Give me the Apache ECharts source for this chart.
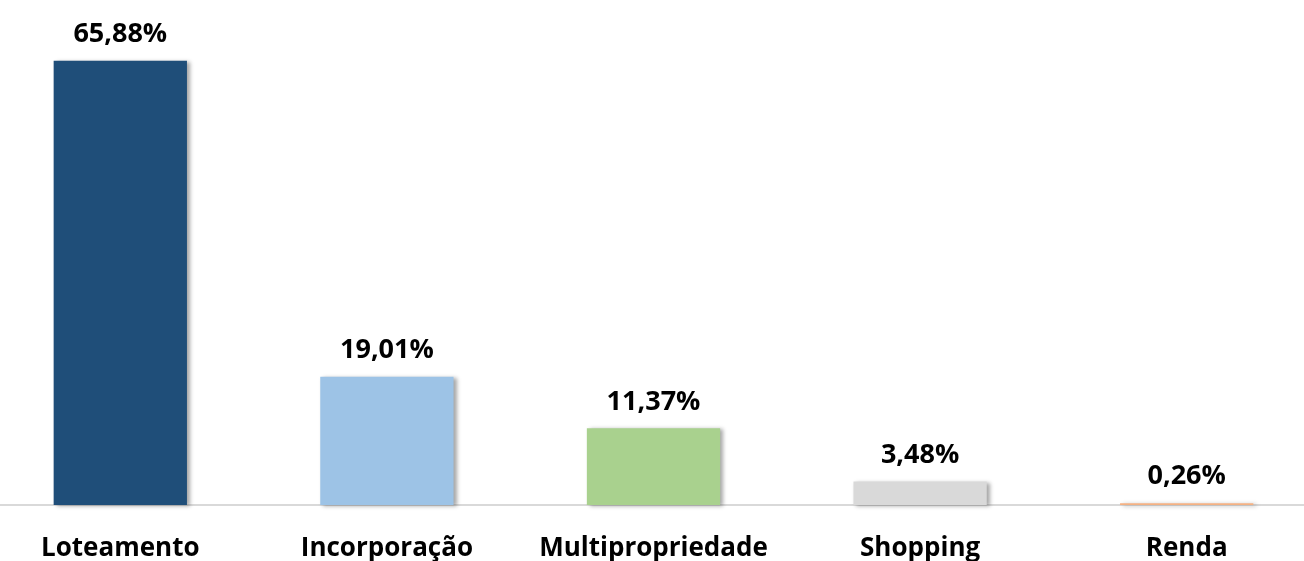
<!DOCTYPE html>
<html><head><meta charset="utf-8">
<script src="https://cdn.jsdelivr.net/npm/echarts@6/dist/echarts.min.js"></script>
<style>html,body{margin:0;padding:0;background:#fff}#c{width:1304px;height:561px}</style>
</head><body><div id="c"></div>
<script>
const categories = ['Loteamento', 'Incorporação', 'Multipropriedade', 'Shopping', 'Renda'];
const values = [65.88, 19.01, 11.37, 3.48, 0.26];
const colors = ['#1f4e79', '#9dc3e6', '#a9d18e', '#d9d9d9', '#f4b183'];

const chart = echarts.init(document.getElementById('c'));
chart.setOption({
  animation: false,
  grid: { left: -13, right: -16, top: 33, bottom: 56, containLabel: false, outerBoundsMode: 'none' },
  xAxis: {
    type: 'category', data: categories,
    axisLine: { show: true, lineStyle: { color: '#d9d9d9', width: 2 } },
    axisTick: { show: false },
    axisLabel: { interval: 0, color: '#000', fontFamily: 'Open Sans', fontWeight: 'bold', fontSize: 26, margin: 31 }
  },
  yAxis: { type: 'value', min: 0, max: 70, show: false, splitLine: { show: false } },
  series: [{
    type: 'bar', barWidth: '50%',
    data: values.map((v, i) => ({ value: v, itemStyle: { color: colors[i] } })),
    itemStyle: { shadowColor: 'rgba(0,0,0,0.35)', shadowBlur: 4, shadowOffsetX: 3, shadowOffsetY: 1 },
    label: {
      show: true, position: 'top', distance: 13, color: '#000',
      fontFamily: 'Open Sans', fontWeight: 'bold', fontSize: 27,
      formatter: p => p.value.toFixed(2).replace('.', ',') + '%'
    }
  }]
});
</script></body></html>
